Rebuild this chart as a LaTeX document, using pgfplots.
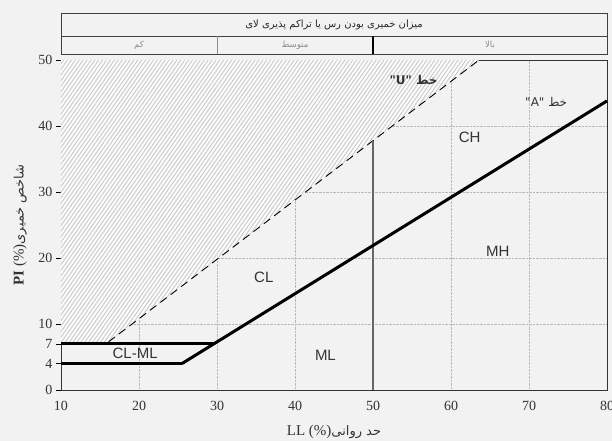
\documentclass[border=0pt]{standalone}
\usepackage{fontspec}
\setmainfont{Liberation Serif}
\setsansfont{Liberation Sans}
\newfontfamily\arabicfont[Script=Arabic]{DejaVu Sans}
\TeXXeTstate=1
\usepackage{pgfplots}
\pgfplotsset{compat=1.18}
\usetikzlibrary{patterns.meta,backgrounds,calc}
\definecolor{bgc}{HTML}{F2F2F2}
\definecolor{txt}{HTML}{333333}
\begin{document}
\begin{tikzpicture}
\begin{axis}[
  scale only axis, width=546pt, height=330pt,
  xmin=10, xmax=80, ymin=0, ymax=50,
  xtick={10,20,...,80}, ytick={0,10,...,50},
  extra y ticks={4,7},
  extra y tick style={grid=none},
  grid=major,
  grid style={densely dotted, gray!55, line width=0.5pt},
  tick align=outside,
  ytick pos=left, xtick pos=bottom,
  ytick style={black, line width=0.6pt},
  major tick length=5pt,
  xtick style={draw=none},
  clip=false,
  axis background/.style={fill=bgc},
  axis line style={black!80, line width=0.9pt},
  tick label style={font=\fontsize{14}{16}\selectfont, text=txt},
  xticklabel style={yshift=-3pt},
  /pgf/number format/assume math mode=true,
]
% hatched zone above U-line
\addplot[draw=none, fill=white!80!bgc, postaction={pattern={Lines[angle=55,distance=3.2pt,line width=1pt]}, pattern color=gray!40}]
  coordinates {(10,7.3) (16.1,7.3) (63.6,50) (10,50)};
% U-line
\addplot[black, line width=0.9pt, dash pattern=on 8pt off 5pt] coordinates {(16.1,7.3) (63.6,50)};
% vertical LL=50
\addplot[black!60, line width=1.6pt] coordinates {(50,0) (50,37.8)};
% A-line
\addplot[black, line width=3pt] coordinates {(25.5,4) (80,43.8)};
% CL-ML band
\addplot[black, line width=3pt] coordinates {(10,7) (29.6,7)};
\addplot[black, line width=3pt] coordinates {(10,4) (25.5,4)};

\coordinate (SW) at (rel axis cs:0,0);
\coordinate (NE) at (rel axis cs:1,1);
\coordinate (WM) at (rel axis cs:0,0.5);
\coordinate (SM) at (rel axis cs:0.5,0);

% zone labels
\begin{scope}[every node/.style={font=\sffamily\fontsize{15}{17}\selectfont, text=txt}]
\node at (axis cs:36,17) {CL};
\node at (axis cs:19.5,5.5) {CL-ML};
\node at (axis cs:43.9,5.2) {ML};
\node at (axis cs:66,21) {MH};
\node at (axis cs:62.4,38.3) {CH};
\end{scope}
\node[font=\arabicfont\fontsize{12}{14}\selectfont\bfseries, text=txt] at (axis cs:55.2,47) {\beginR خط \beginL"U"\endL\endR};
\node[font=\arabicfont\fontsize{12}{14}\selectfont, text=txt] at (axis cs:72.2,43.6) {\beginR خط \beginL"A"\endL\endR};

% header table
\draw[black!75, line width=0.8pt] (axis cs:10,50.9) rectangle (axis cs:80,57);
\draw[black!75, line width=0.6pt] (axis cs:10,53.6) -- (axis cs:80,53.6);
\draw[black!45, line width=0.6pt] (axis cs:30,50.9) -- (axis cs:30,53.6);
\draw[black, line width=1.5pt] (axis cs:50,50.9) -- (axis cs:50,53.6);
\node[font=\arabicfont\fontsize{10}{12}\selectfont, text=black!85] at (axis cs:45,55.3) {\beginR میزان خمیری بودن رس یا تراکم پذیری لای\endR};
\node[font=\arabicfont\fontsize{8.5}{10}\selectfont, text=black!45] at (axis cs:20,52.25) {\beginR کم\endR};
\node[font=\arabicfont\fontsize{8.5}{10}\selectfont, text=black!45] at (axis cs:40,52.25) {\beginR متوسط\endR};
\node[font=\arabicfont\fontsize{8.5}{10}\selectfont, text=black!45] at (axis cs:65,52.25) {\beginR بالا\endR};
\end{axis}

% axis labels
\node[rotate=90, text=txt, font=\fontsize{15}{17}\selectfont] at ([xshift=-41pt]WM) {\textbf{PI} (\%){\arabicfont\fontsize{13}{15}\selectfont\beginR شاخص خمیری\endR}};
\node[text=txt, font=\fontsize{15}{17}\selectfont] at ([yshift=-42pt]SM) {LL (\%){\arabicfont\fontsize{13}{15}\selectfont\beginR حد روانی\endR}};

\begin{scope}[on background layer]
\fill[bgc] ([shift={(-61pt,-51pt)}]SW) rectangle ([shift={(5pt,60pt)}]NE);
\end{scope}
\pgfresetboundingbox
\path ([shift={(-61pt,-51pt)}]SW) rectangle ([shift={(5pt,60pt)}]NE);
\end{tikzpicture}
\end{document}
